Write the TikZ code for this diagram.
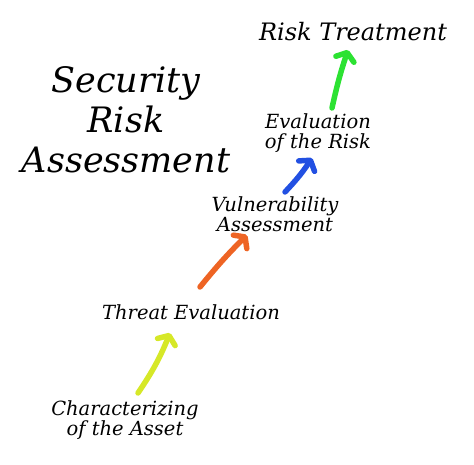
\documentclass[tikz,border=0pt]{standalone}
\usepackage{fontspec}
\setmainfont{DejaVu Serif}
\usetikzlibrary{arrows.meta}

\definecolor{stepyellow}{RGB}{214,232,40}
\definecolor{steporange}{RGB}{238,100,36}
\definecolor{stepblue}{RGB}{34,80,226}
\definecolor{stepgreen}{RGB}{44,226,50}

\tikzset{
  steplabel/.style={font=\itshape\fontsize{19.5}{20}\selectfont, align=center, inner sep=0pt},
  steparrow/.style={line width=5.5pt, line cap=round, line join=round,
    -{Straight Barb[length=7pt,width=19pt,line cap=round,line join=round]}},
}

\begin{document}
\begin{tikzpicture}[x=1pt, y=-1pt]

        % frame of the picture
        \useasboundingbox (0,0) rectangle (474,465);

        % title
        \node[steplabel, font=\itshape\fontsize{35}{40}\selectfont] (title) at (126,120) {Security\\Risk\\Assessment};

        % steps, from the bottom up
        \node[steplabel] (asset) at (125,420) {Characterizing\\of the Asset};
        \node[steplabel] (threat) at (191,312) {Threat Evaluation};
        \node[steplabel] (vuln) at (275,214) {Vulnerability\\Assessment};
        \node[steplabel] (evalrisk) at (318,133) {Evaluation\\of the Risk};
        \node[steplabel, font=\itshape\fontsize{24}{26}\selectfont] (treat) at (353,32) {Risk Treatment};

        % arrows between the steps
        \draw[steparrow, stepyellow] ([shift={(13,-27)}]asset.center) to[bend right=6] ([shift={(-21,21)}]threat.center);
        \draw[steparrow, steporange] ([shift={(9,-25)}]threat.center) to[bend left=3] ([shift={(-28,21)}]vuln.center);
        \draw[steparrow, stepblue] ([shift={(10,-22)}]vuln.center) to[bend right=5] ([shift={(-6,25)}]evalrisk.center);
        \draw[steparrow, stepgreen] ([shift={(14,-25)}]evalrisk.center) to[bend left=3] ([shift={(-5,18)}]treat.center);

    \end{tikzpicture}
\end{document}
